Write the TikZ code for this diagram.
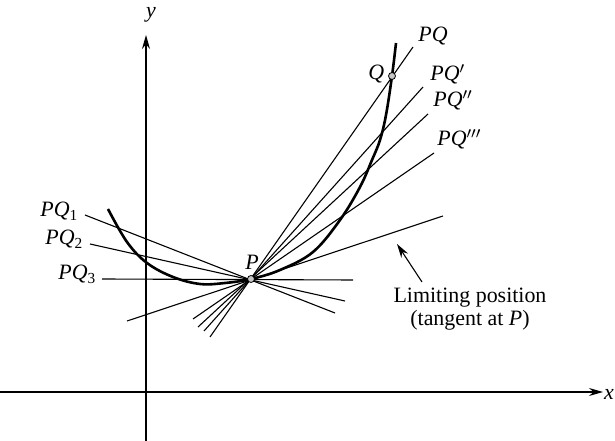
\documentclass[tikz,border=0pt]{standalone}
\usepackage{fontspec}
\setmainfont{Liberation Serif}
\usetikzlibrary{arrows.meta}

\begin{document}
\begin{tikzpicture}[
    x=0.5bp, y=-0.5bp,
    axisline/.style={line width=0.7bp, -{Stealth[length=7bp,width=4bp]}},
    secant/.style={line width=0.55bp},
    graphline/.style={line width=1.3bp},
    ptdot/.style={circle, draw, fill=gray!45, inner sep=0pt, minimum size=3.5bp, line width=0.4bp},
    lbl/.style={font=\fontsize{11}{13}\selectfont, inner sep=0pt}
]
\useasboundingbox (0,0) rectangle (615,441);

% Axes
\coordinate (xl) at (0,392);
\coordinate (xr) at (603,392);
\coordinate (yb) at (146,441);
\coordinate (yt) at (146,35);
\draw[axisline] (xl) -- (xr);
\draw[axisline] (yb) -- (yt);
\node[lbl] (xlab) at (609,394) {\textit{x}};
\node[lbl] (ylab) at (151,15) {\textit{y}};

% Secant line end points
\coordinate (sq0) at (210,337);   \coordinate (sq1) at (413,47);
\coordinate (sqa0) at (204,331);  \coordinate (sqa1) at (423,87);
\coordinate (sqb0) at (198,327);  \coordinate (sqb1) at (428,114);
\coordinate (sqc0) at (193,319);  \coordinate (sqc1) at (434,153);
\coordinate (tan0) at (127,321);  \coordinate (tan1) at (443,216);
\coordinate (s10) at (85,215);    \coordinate (s11) at (335,313);
\coordinate (s20) at (90,244);    \coordinate (s21) at (345,301);
\coordinate (s30) at (102,279);   \coordinate (s31) at (353,280);

% Secants through P
\draw[secant] (sq0) -- (sq1);
\draw[secant] (sqa0) -- (sqa1);
\draw[secant] (sqb0) -- (sqb1);
\draw[secant] (sqc0) -- (sqc1);
\draw[secant] (tan0) -- (tan1);
\draw[secant] (s10) -- (s11);
\draw[secant] (s20) -- (s21);
\draw[secant] (s30) -- (s31);

% The curve
\draw[graphline] plot[smooth, tension=0.6] coordinates {
  (108,209) (127,242) (147,263) (173,277) (200,284) (225,283) (251,279)
  (280,270) (313,252) (340,220) (360,187) (372,160) (380,140) (386,115)
  (392,76) (396,43)};

% Points P and Q
\node[ptdot] (P) at (251,279) {};
\node[ptdot] (Q) at (392,76) {};
\node[lbl, anchor=base west] (Plab) at (245,270) {\textit{P}};
\node[lbl, anchor=base west] (Qlab) at (368,80) {\textit{Q}};

% Labels of the secants
\node[lbl, anchor=base west] (lPQ) at (418,42) {\textit{PQ}};
\node[lbl, anchor=base west] (lPQa) at (430,81) {\textit{PQ}$'$};
\node[lbl, anchor=base west] (lPQb) at (433,107) {\textit{PQ}$''$};
\node[lbl, anchor=base west] (lPQc) at (437,146) {\textit{PQ}$'''$};
\node[lbl, anchor=base west] (lPQ1) at (40,217) {\textit{PQ}\textsubscript{1}};
\node[lbl, anchor=base west] (lPQ2) at (45,245) {\textit{PQ}\textsubscript{2}};
\node[lbl, anchor=base west] (lPQ3) at (58,280) {\textit{PQ}\textsubscript{3}};

% Limiting position
\node[lbl, align=center, font=\fontsize{11}{11.5}\selectfont] (limit) at (470,309)
  {Limiting position\\(tangent at \textit{P})};
\coordinate (arrtail) at (422,282);
\coordinate (arrtip) at (397,244);
\draw[secant, -{Stealth[length=7bp,width=4bp]}] (arrtail) -- (arrtip);

\end{tikzpicture}
\end{document}
